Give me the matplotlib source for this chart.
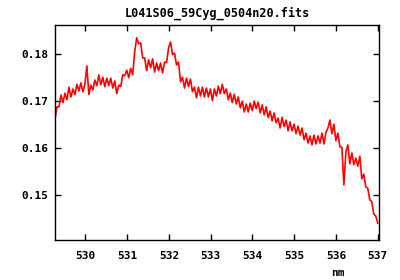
import numpy as np
import matplotlib
matplotlib.use('Agg')
import matplotlib.pyplot as plt

# spectrum, flux in units of 1e-4
flux_e4 = [1662, 1688, 1688, 1713, 1697, 1717, 1703, 1730, 1709, 1726,
           1714, 1736, 1722, 1739, 1720, 1736, 1775, 1714, 1734, 1724,
           1745, 1733, 1756, 1735, 1751, 1731, 1749, 1733, 1749, 1728,
           1743, 1716, 1734, 1731, 1756, 1754, 1766, 1750, 1770, 1756,
           1805, 1835, 1822, 1824, 1792, 1792, 1765, 1788, 1771, 1790,
           1762, 1781, 1765, 1781, 1760, 1783, 1782, 1813, 1826, 1799,
           1802, 1777, 1783, 1741, 1751, 1728, 1749, 1731, 1747, 1720,
           1730, 1707, 1730, 1711, 1730, 1709, 1728, 1709, 1726, 1701,
           1726, 1711, 1732, 1716, 1736, 1716, 1726, 1703, 1717, 1697,
           1715, 1694, 1709, 1686, 1700, 1677, 1694, 1677, 1696, 1680,
           1700, 1684, 1698, 1675, 1692, 1671, 1688, 1665, 1679, 1658,
           1675, 1654, 1664, 1643, 1666, 1646, 1660, 1637, 1656, 1637,
           1651, 1631, 1647, 1628, 1643, 1618, 1632, 1611, 1626, 1607,
           1628, 1609, 1626, 1611, 1632, 1609, 1634, 1643, 1660, 1631,
           1651, 1616, 1632, 1603, 1602, 1522, 1592, 1607, 1567, 1590,
           1565, 1579, 1562, 1583, 1535, 1545, 1518, 1515, 1490, 1487,
           1460, 1456, 1441]
flux = np.array(flux_e4) / 1e4
wave = np.linspace(529.27, 537.0, len(flux))  # nm, evenly sampled

title = 'L041S06_59Cyg_0504n20.fits'
xticks = [530, 531, 532, 533, 534, 535, 536, 537]
yticks = [0.15, 0.16, 0.17, 0.18]

font = {'family': 'DejaVu Sans Mono', 'weight': 'bold', 'size': 8}

fig = plt.figure(figsize=(4, 2.8), dpi=100)
ax = fig.add_axes([0.1375, 0.1429, 0.81, 0.7679])
ax.plot(wave, flux, color='#ff0000', lw=1.2)

ax.set_xlim(529.27, 537.03)
ax.set_ylim(0.1405, 0.1862)
ax.set_xticks(xticks)
ax.set_yticks(yticks)
ax.set_xticklabels([str(t) for t in xticks], fontdict=font)
ax.set_yticklabels(['%.2f' % t for t in yticks], fontdict=font)
ax.tick_params(direction='in', length=4, width=1, top=True, right=True)
ax.tick_params(axis='x', pad=8)
ax.tick_params(axis='y', pad=5)
for s in ax.spines.values():
    s.set_linewidth(1)

ax.set_title(title, fontdict=dict(font, size=8.5), pad=6)
ax.set_xlabel('nm', fontdict=font)
ax.xaxis.set_label_coords(0.873, -0.13)

fig.savefig('out.png', dpi=100)
